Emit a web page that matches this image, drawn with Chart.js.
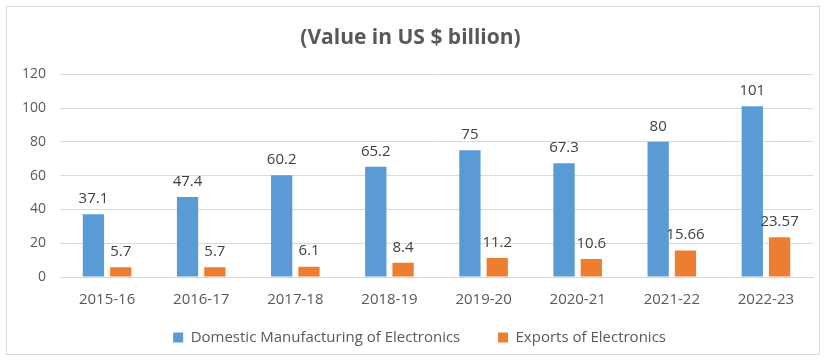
<!DOCTYPE html>
<html>
<head>
<meta charset="utf-8">
<script src="https://cdn.jsdelivr.net/npm/chart.js@4.4.0/dist/chart.umd.min.js"></script>
<style>
  html, body { margin: 0; padding: 0; background: #fff; }
  #wrap { position: relative; width: 827px; height: 363px; }
  #frame { position: absolute; left: 6px; top: 6px; width: 814px; height: 349px; border: 1px solid #d9d9d9; box-sizing: border-box; }
  #chart { position: absolute; left: 0; top: 0; }
</style>
</head>
<body>
<div id="wrap">
  <div id="frame"></div>
  <canvas id="chart" width="827" height="363"></canvas>
</div>
<script>
// Chart data (values in US $ billion)
const years = ['2015-16', '2016-17', '2017-18', '2018-19', '2019-20', '2020-21', '2021-22', '2022-23'];
const domesticValues = [37.1, 47.4, 60.2, 65.2, 75, 67.3, 80, 101];
const exportValues = [5.7, 5.7, 6.1, 8.4, 11.2, 10.6, 15.66, 23.57];
const yTicks = [0, 20, 40, 60, 80, 100, 120];

const textGray = '#595959';
const fontFamily = "'Open Sans', 'Liberation Sans', sans-serif";

// simple value labels drawn above each bar
const barLabels = {
    id: 'barLabels',
    afterDatasetsDraw(chart) {
        const ctx = chart.ctx;
        ctx.save();
        ctx.font = '15px ' + fontFamily;
        ctx.fillStyle = '#404040';
        ctx.textAlign = 'center';
        ctx.textBaseline = 'bottom';
        chart.data.datasets.forEach((ds, i) => {
            chart.getDatasetMeta(i).data.forEach((bar, j) => {
                ctx.fillText(String(ds.data[j]), bar.x, bar.y - 8);
            });
        });
        ctx.restore();
    }
};

new Chart(document.getElementById('chart').getContext('2d'), {
    type: 'bar',
    data: {
        labels: years,
        datasets: [
            {
                label: 'Domestic Manufacturing of Electronics',
                data: domesticValues,
                backgroundColor: '#5b9bd5',
                categoryPercentage: 0.58,
                barPercentage: 0.78
            },
            {
                label: 'Exports of Electronics',
                data: exportValues,
                backgroundColor: '#ed7d31',
                categoryPercentage: 0.58,
                barPercentage: 0.78
            }
        ]
    },
    options: {
        responsive: false,
        animation: false,
        layout: { padding: { left: 8, right: 14, top: 8, bottom: 8 } },
        scales: {
            y: {
                min: 0,
                max: 120,
                afterBuildTicks: (axis) => { axis.ticks = yTicks.map(v => ({ value: v })); },
                grid: { color: '#d9d9d9', drawTicks: false },
                border: { display: false },
                ticks: { color: textGray, padding: 14, font: { size: 14, family: fontFamily } }
            },
            x: {
                grid: { display: false },
                border: { color: '#d9d9d9' },
                ticks: { color: textGray, padding: 6, font: { size: 15, family: fontFamily } }
            }
        },
        plugins: {
            title: {
                display: true,
                text: '(Value in US $ billion)',
                color: textGray,
                font: { size: 21, weight: 'bold', family: fontFamily },
                padding: { top: 17, bottom: 24 }
            },
            legend: {
                position: 'bottom',
                fullSize: false,
                labels: {
                    color: textGray,
                    boxWidth: 10,
                    boxHeight: 10,
                    padding: 15,
                    font: { size: 15, family: fontFamily },
                    // spacing tweaks so the items sit where the original legend has them
                    generateLabels: (chart) => {
                        const items = Chart.defaults.plugins.legend.labels.generateLabels(chart);
                        items[0].text += '\u2003  ';
                        items[1].text += '\u2003\u2003 ';
                        return items;
                    }
                }
            },
            tooltip: { enabled: false }
        }
    },
    plugins: [barLabels]
});
</script>
</body>
</html>
